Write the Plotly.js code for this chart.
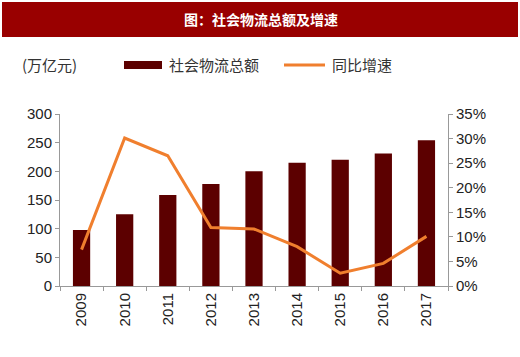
<!DOCTYPE html>
<html><head><meta charset="utf-8">
<script src="https://cdn.plot.ly/plotly-3.0.1.min.js"></script>
<style>html,body{margin:0;padding:0;background:#fff}#c{width:520px;height:357px}</style>
</head><body><div id="c"></div>
<script>
const years = ['2009','2010','2011','2012','2013','2014','2015','2016','2017'];
const totalAmount = [97.7, 125, 158.8, 177.9, 200, 215, 220, 231, 254];
const growthRate = [0.074, 0.301, 0.265, 0.119, 0.116, 0.080, 0.026, 0.046, 0.101];
const leftTicks = [0, 50, 100, 150, 200, 250, 300];
const rightTicks = [0, 0.05, 0.10, 0.15, 0.20, 0.25, 0.30, 0.35];
const titleText = '图：社会物流总额及增速';
const unitText = '(万亿元)';
const barName = '社会物流总额';
const lineName = '同比增速';

// pixel -> paper helpers (plot area x:60..448, y:114..286)
const L = 60, R = 448, T = 114, B = 286;
const px = x => (x - L) / (R - L);
const py = y => (B - y) / (B - T);

const cjk = '"Noto Sans CJK SC", sans-serif';
const tickFont = {family: 'Liberation Sans, Arial, sans-serif', size: 15, color: '#222'};

const data = [
  {type: 'bar', x: years, y: totalAmount, name: barName, marker: {color: '#5c0000'}, yaxis: 'y', showlegend: false},
  {type: 'scatter', mode: 'lines', x: years, y: growthRate, name: lineName, line: {color: '#f07f2e', width: 3}, yaxis: 'y2', showlegend: false}
];

const layout = {
  width: 520, height: 357,
  margin: {l: L, r: 520 - R, t: T, b: 357 - B},
  paper_bgcolor: '#fff', plot_bgcolor: '#fff',
  bargap: 0.6,
  xaxis: {type: 'category', showline: true, linecolor: '#999', linewidth: 1, ticks: 'outside', tickson: 'boundaries', ticklen: 4, tickcolor: '#999', tickangle: -90, tickfont: tickFont, showgrid: false, zeroline: false},
  yaxis: {range: [0, 300], tickvals: leftTicks, showline: true, linecolor: '#999', ticks: 'outside', ticklen: 4, tickcolor: '#999', tickfont: tickFont, showgrid: false, zeroline: false},
  yaxis2: {range: [0, 0.35], tickvals: rightTicks, tickformat: '.0%', overlaying: 'y', side: 'right', showline: true, linecolor: '#999', ticks: 'outside', ticklen: 4, tickcolor: '#999', tickfont: tickFont, showgrid: false, zeroline: false},
  shapes: [
    {type: 'rect', xref: 'paper', yref: 'paper', x0: px(2), x1: px(518), y0: py(37), y1: py(2), fillcolor: '#990000', line: {width: 0}, layer: 'below'},
    {type: 'rect', xref: 'paper', yref: 'paper', x0: px(124), x1: px(162), y0: py(69), y1: py(61), fillcolor: '#5c0000', line: {width: 0}},
    {type: 'line', xref: 'paper', yref: 'paper', x0: px(284), x1: px(325), y0: py(65), y1: py(65), line: {color: '#f07f2e', width: 3}}
  ],
  annotations: [
    {text: '<b>' + titleText + '</b>', xref: 'paper', yref: 'paper', x: px(261), y: py(19), xanchor: 'center', yanchor: 'middle', showarrow: false, font: {family: cjk, size: 14, color: '#fff'}},
    {text: unitText, xref: 'paper', yref: 'paper', x: px(20), y: py(65), xanchor: 'left', yanchor: 'middle', showarrow: false, font: {family: cjk, size: 15, color: '#333'}},
    {text: barName, xref: 'paper', yref: 'paper', x: px(167), y: py(65), xanchor: 'left', yanchor: 'middle', showarrow: false, font: {family: cjk, size: 15, color: '#333'}},
    {text: lineName, xref: 'paper', yref: 'paper', x: px(330), y: py(65), xanchor: 'left', yanchor: 'middle', showarrow: false, font: {family: cjk, size: 15, color: '#333'}}
  ]
};

Plotly.newPlot('c', data, layout, {staticPlot: true, displayModeBar: false});
</script></body></html>
